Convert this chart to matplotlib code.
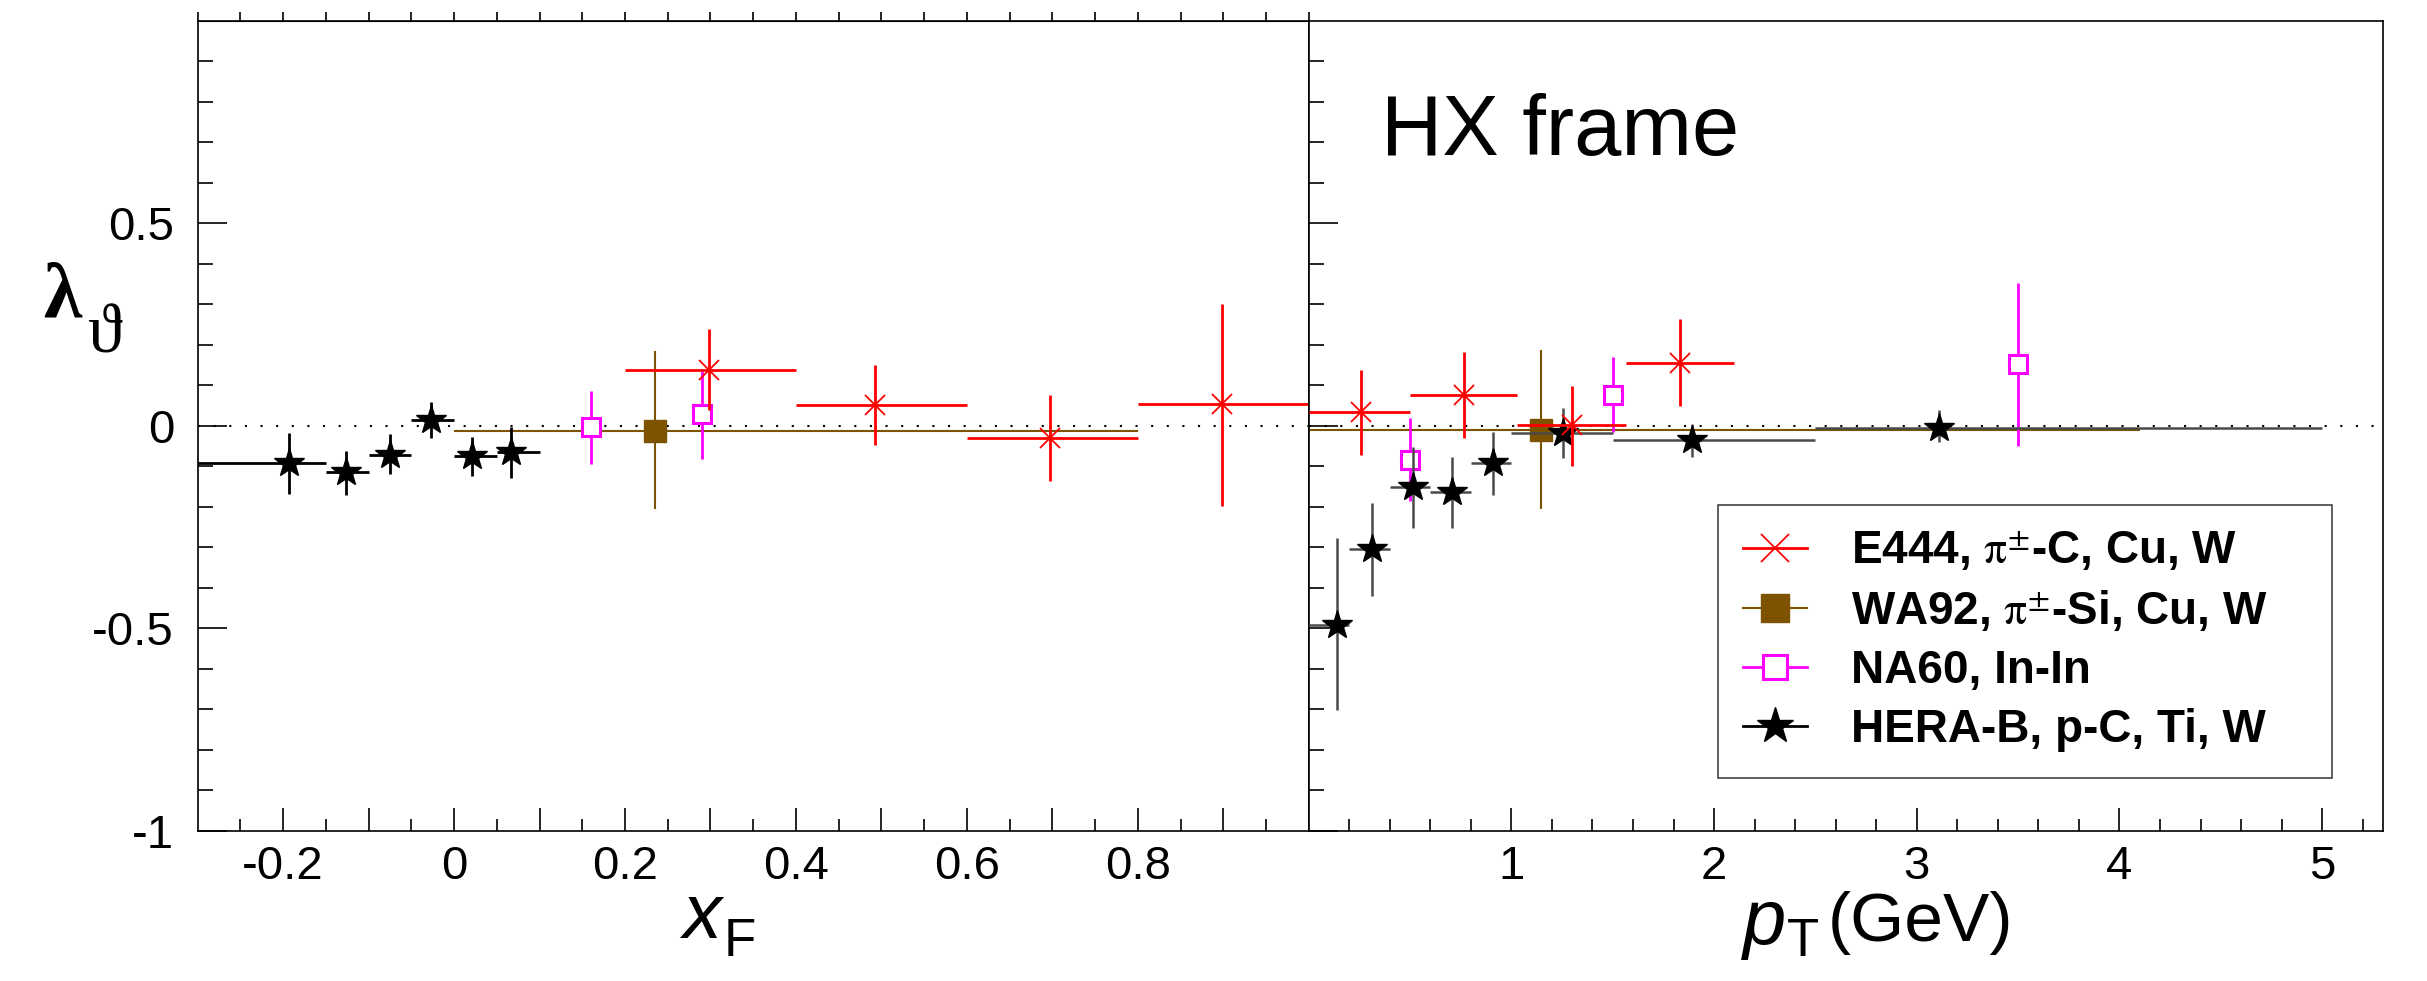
import numpy as np
import matplotlib
matplotlib.use("Agg")
import matplotlib.pyplot as plt
from matplotlib.lines import Line2D
from matplotlib.ticker import FixedLocator, FuncFormatter

plt.rcParams["font.family"] = ["Liberation Sans", "DejaVu Sans"]
plt.rcParams["mathtext.fontset"] = "stix"
plt.rcParams["axes.unicode_minus"] = False

# ──────────────────────────────────────────────────────────────────────────────
# Data (lambda_theta in HX frame)
# ──────────────────────────────────────────────────────────────────────────────

# left panel: vs x_F
herab_xf     = np.array([-0.193, -0.126, -0.075, -0.027, 0.021, 0.067])
herab_xf_lo  = np.array([-0.35, -0.15, -0.10, -0.05, 0.00, 0.05])
herab_xf_hi  = np.array([-0.15, -0.10, -0.05, 0.00, 0.05, 0.10])
herab_xf_y   = np.array([-0.092, -0.115, -0.071, 0.015, -0.075, -0.064])
herab_xf_ylo = np.array([-0.169, -0.172, -0.119, -0.031, -0.124, -0.128])
herab_xf_yhi = np.array([-0.017, -0.062, -0.021, 0.059, -0.027, -0.002])

na60_xf     = np.array([0.160, 0.290])
na60_xf_y   = np.array([-0.003, 0.030])
na60_xf_ylo = np.array([-0.095, -0.081])
na60_xf_yhi = np.array([0.087, 0.135])

wa92_xf     = np.array([0.235])
wa92_xf_lo  = np.array([0.0])
wa92_xf_hi  = np.array([0.80])
wa92_xf_y   = np.array([-0.012])
wa92_xf_ylo = np.array([-0.206])
wa92_xf_yhi = np.array([0.184])

e444_xf     = np.array([0.298, 0.493, 0.697, 0.899])
e444_xf_lo  = np.array([0.2, 0.4, 0.6, 0.8])
e444_xf_hi  = np.array([0.4, 0.6, 0.8, 1.0])
e444_xf_y   = np.array([0.137, 0.052, -0.029, 0.053])
e444_xf_ylo = np.array([0.038, -0.048, -0.136, -0.198])
e444_xf_yhi = np.array([0.239, 0.150, 0.076, 0.302])

# right panel: vs pT (GeV)
herab_pt     = np.array([0.140, 0.310, 0.514, 0.708, 0.908, 1.255, 1.893, 3.112])
herab_pt_lo  = np.array([0.0, 0.2, 0.4, 0.6, 0.8, 1.0, 1.5, 2.5])
herab_pt_hi  = np.array([0.2, 0.4, 0.6, 0.8, 1.0, 1.5, 2.5, 5.0])
herab_pt_y   = np.array([-0.493, -0.305, -0.152, -0.164, -0.092, -0.018, -0.036, -0.005])
herab_pt_ylo = np.array([-0.702, -0.421, -0.253, -0.253, -0.172, -0.080, -0.077, -0.040])
herab_pt_yhi = np.array([-0.276, -0.191, -0.053, -0.076, -0.014, 0.045, 0.005, 0.038])

na60_pt     = np.array([0.498, 1.500, 3.500])
na60_pt_y   = np.array([-0.085, 0.076, 0.153])
na60_pt_ylo = np.array([-0.186, -0.016, -0.050])
na60_pt_yhi = np.array([0.020, 0.171, 0.354])

wa92_pt     = np.array([1.148])
wa92_pt_lo  = np.array([0.0])
wa92_pt_hi  = np.array([4.1])
wa92_pt_y   = np.array([-0.010])
wa92_pt_ylo = np.array([-0.205])
wa92_pt_yhi = np.array([0.187])

e444_pt     = np.array([0.257, 0.766, 1.301, 1.830])
e444_pt_lo  = np.array([0.0, 0.5, 1.03, 1.565])
e444_pt_hi  = np.array([0.5, 1.03, 1.565, 2.1])
e444_pt_y   = np.array([0.033, 0.076, 0.001, 0.155])
e444_pt_ylo = np.array([-0.073, -0.030, -0.098, 0.048])
e444_pt_yhi = np.array([0.138, 0.183, 0.099, 0.263])

labels = [r"E444, $\mathrm{\pi}^{\pm}$-C, Cu, W",
          r"WA92, $\mathrm{\pi}^{\pm}$-Si, Cu, W",
          "NA60, In-In",
          "HERA-B, p-C, Ti, W"]

RED, BROWN, MAG = "#ff0000", "#7d5200", "#ff00ff"

# ──────────────────────────────────────────────────────────────────────────────
# Figure / axes
# ──────────────────────────────────────────────────────────────────────────────

W, H = 2427, 981
fig = plt.figure(figsize=(W / 100, H / 100), dpi=100)
x0, xm, x1 = 197.7, 1308.7, 2383.0
ytop, ybot = 21.0, 830.7
axL = fig.add_axes([x0 / W, 1 - ybot / H, (xm - x0) / W, (ybot - ytop) / H])
axR = fig.add_axes([xm / W, 1 - ybot / H, (x1 - xm) / W, (ybot - ytop) / H])


def err(ax, x, y, ylo, yhi, xlo=None, xhi=None, z=2, **kw):
    xerr = None if xlo is None else [x - xlo, xhi - x]
    ax.errorbar(x, y, yerr=[y - ylo, yhi - y], xerr=xerr, capsize=0,
                linestyle="none", zorder=z, **kw)


for ax in (axL, axR):
    ax.axhline(0, color="black", lw=1.5, ls=(0, (1, 6.5)), zorder=1)
    ax.set_ylim(-1, 1)
    for s in ax.spines.values():
        s.set_linewidth(1.2)

# left panel
err(axL, wa92_xf, wa92_xf_y, wa92_xf_ylo, wa92_xf_yhi, wa92_xf_lo, wa92_xf_hi, z=2,
    fmt="s", color=BROWN, ms=15.5, elinewidth=1.5, mec=BROWN)
err(axL, na60_xf, na60_xf_y, na60_xf_ylo, na60_xf_yhi, z=3,
    fmt="s", color=MAG, ms=13.5, mfc="white", mew=2.2, elinewidth=2)
err(axL, herab_xf, herab_xf_y, herab_xf_ylo, herab_xf_yhi, herab_xf_lo, herab_xf_hi, z=4,
    fmt="*", color="black", ms=22, elinewidth=2)
err(axL, e444_xf, e444_xf_y, e444_xf_ylo, e444_xf_yhi, e444_xf_lo, e444_xf_hi, z=5,
    fmt="x", color=RED, ms=15, mew=1.3, elinewidth=2)

# right panel
err(axR, wa92_pt, wa92_pt_y, wa92_pt_ylo, wa92_pt_yhi, wa92_pt_lo, wa92_pt_hi, z=2,
    fmt="s", color=BROWN, ms=15.5, elinewidth=1.5, mec=BROWN)
err(axR, na60_pt, na60_pt_y, na60_pt_ylo, na60_pt_yhi, z=3,
    fmt="s", color=MAG, ms=13.5, mfc="white", mew=2.2, elinewidth=2)
err(axR, herab_pt, herab_pt_y, herab_pt_ylo, herab_pt_yhi, herab_pt_lo, herab_pt_hi, z=4,
    fmt="*", color="black", ecolor="#4a4a4a", ms=22, elinewidth=1.8)
err(axR, e444_pt, e444_pt_y, e444_pt_ylo, e444_pt_yhi, e444_pt_lo, e444_pt_hi, z=5,
    fmt="x", color=RED, ms=15, mew=1.3, elinewidth=2)

axL.set_xlim(-0.3, 1.0)
axR.set_xlim(0, 5.3)

# ─── ticks ───
def xf_fmt(v, pos):
    if abs(v / 0.2 - round(v / 0.2)) < 1e-6:
        return "%g" % round(v, 2) if abs(v) > 1e-9 else "0"
    return ""

axL.xaxis.set_major_locator(FixedLocator(np.round(np.arange(-0.2, 0.95, 0.1), 2)))
axL.xaxis.set_minor_locator(FixedLocator(np.round(np.arange(-0.25, 1.0, 0.1), 2)))
axL.xaxis.set_major_formatter(FuncFormatter(xf_fmt))
axR.xaxis.set_major_locator(FixedLocator([1, 2, 3, 4, 5]))
axR.xaxis.set_minor_locator(FixedLocator(np.round(np.arange(0.2, 5.3, 0.2), 2)))
axR.xaxis.set_major_formatter(FuncFormatter(lambda v, p: "%d" % v))

for ax in (axL, axR):
    ax.yaxis.set_major_locator(FixedLocator([-1, -0.5, 0, 0.5]))
    ax.yaxis.set_minor_locator(FixedLocator(np.round(np.arange(-0.9, 1.0, 0.1), 2)))
    ax.tick_params(axis="x", which="major", direction="in", length=16.5, width=1.2,
                   labelsize=34, pad=10, top=False)
    ax.tick_params(axis="x", which="minor", direction="in", length=8.3, width=1.2, top=False)
    ax.tick_params(axis="y", which="major", direction="in", length=21, width=1.2,
                   labelsize=34, pad=17, right=False)
    ax.tick_params(axis="y", which="minor", direction="in", length=10.5, width=1.2, right=False)

axL.yaxis.set_major_formatter(FuncFormatter(lambda v, p: "%g" % v))
axR.tick_params(axis="y", labelleft=False)

# outward ticks on top of left panel
sec = axL.secondary_xaxis("top")
sec.set_xticks(np.round(np.arange(-0.3, 1.01, 0.05), 2))
sec.tick_params(direction="out", length=6.5, width=1.2, labeltop=False)
sec.xaxis.set_minor_locator(FixedLocator([]))

# ─── labels ───
fig.text(62 / W, 1 - 298 / H, "λ", fontsize=56, fontweight="bold",
         family=["Liberation Serif", "DejaVu Serif"], ha="center", va="center")
fig.text(104 / W, 1 - 336 / H, "ϑ", fontsize=50,
         family=["Liberation Serif", "DejaVu Serif"], ha="center", va="center")

fig.text(702 / W, 1 - 918 / H, "x", fontsize=56, style="italic", ha="center", va="center")
fig.text(740 / W, 1 - 942 / H, "F", fontsize=38, ha="center", va="center")

fig.text(1765 / W, 1 - 924 / H, "p", fontsize=56, style="italic", ha="center", va="center")
fig.text(1803 / W, 1 - 942 / H, "T", fontsize=38, ha="center", va="center")
fig.text(1920 / W, 1 - 923 / H, "(GeV)", fontsize=50, ha="center", va="center")

fig.text(1381 / W, 1 - 155 / H, "HX frame", fontsize=61, ha="left", va="baseline")

# ─── legend ───
handles = [
    Line2D([], [], color=RED, marker="x", ms=20, mew=1.3, lw=2),
    Line2D([], [], color=BROWN, marker="s", ms=20, mec=BROWN, lw=1.5),
    Line2D([], [], color=MAG, marker="s", ms=17, mfc="white", mew=2.2, lw=2),
    Line2D([], [], color="black", marker="*", ms=27, lw=2),
]
leg = axR.legend(handles, labels, loc="upper left",
                 bbox_to_anchor=(0.381, 0.4026, 0.5715, 0.0), mode="expand",
                 prop={"size": 33, "weight": "bold"}, frameon=True, fancybox=False,
                 framealpha=1, edgecolor="#333333", borderpad=0.55, labelspacing=0.33,
                 handlelength=1.4, handletextpad=0.95, borderaxespad=0)
leg.get_frame().set_linewidth(1.1)

fig.savefig("out.png", dpi=100)
